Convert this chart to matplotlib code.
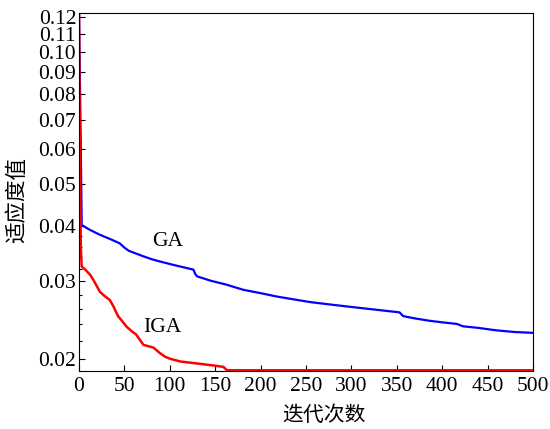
import numpy as np
import matplotlib.pyplot as plt
from matplotlib.ticker import FixedLocator, FixedFormatter, NullFormatter

plt.rcParams['font.family'] = ['Liberation Serif', 'Noto Sans CJK SC']
plt.rcParams['font.size'] = 15.5

# GA convergence curve
ga_x = [0, 2, 3, 12, 23, 35, 45, 50, 55, 63, 71, 80, 89, 104, 115, 126, 128, 130,
        145, 162, 181, 200, 218, 255, 295, 331, 353, 357, 370, 386, 400, 416, 423,
        440, 460, 480, 500]
ga_y = [0.125, 0.06, 0.0403, 0.0393, 0.0383, 0.0374, 0.0366, 0.0358, 0.0352, 0.0347,
        0.0342, 0.0337, 0.0333, 0.0327, 0.0323, 0.0319, 0.0312, 0.0308,
        0.0301, 0.0295, 0.0287, 0.0282, 0.0277, 0.0269, 0.0263, 0.0258, 0.0255,
        0.0250, 0.0247, 0.0244, 0.0242, 0.0240, 0.0237, 0.0235, 0.0232, 0.0230,
        0.0229]

# IGA convergence curve
iga_x = [0, 1, 2, 3, 7, 12, 16, 23, 28, 34, 38, 43, 48, 52, 58, 63, 71, 82, 89, 95,
         100, 112, 126, 148, 159, 163, 500]
iga_y = [0.125, 0.06, 0.036, 0.0324, 0.0319, 0.0311, 0.0302, 0.0284, 0.0278,
         0.0272, 0.0263, 0.0250, 0.0243, 0.0237, 0.0231, 0.0227, 0.0215, 0.0212,
         0.0206, 0.0202, 0.0200, 0.0197, 0.01955, 0.0193, 0.01916, 0.01882, 0.01882]

y_major = [0.02, 0.03, 0.04, 0.05, 0.06, 0.07, 0.08, 0.09, 0.10, 0.11, 0.12]
y_labels = ['0.02', '0.03', '0.04', '0.05', '0.06', '0.07', '0.08', '0.09',
            '0.10', '0.11', '0.12']
y_minor = [0.022, 0.024, 0.026, 0.028, 0.032, 0.034, 0.036, 0.038]

fig = plt.figure(figsize=(5.5, 4.29), dpi=100)
ax = fig.add_axes([0.1436, 0.1352, 0.8255, 0.8345])

ax.plot(ga_x, ga_y, color='#0000ff', lw=1.6)
ax.plot(iga_x, iga_y, color='#ff0000', lw=1.8)

ax.set_yscale('log')
ax.set_xlim(0, 500)
ax.set_ylim(0.01875, 0.1225)
ax.set_xticks(np.arange(0, 501, 50))
ax.yaxis.set_major_locator(FixedLocator(y_major))
ax.yaxis.set_major_formatter(FixedFormatter(y_labels))
ax.yaxis.set_minor_locator(FixedLocator(y_minor))
ax.yaxis.set_minor_formatter(NullFormatter())
ax.tick_params(which='major', direction='in', length=4, width=0.8, pad=4)
ax.tick_params(which='minor', direction='in', length=2.5, width=0.8)
ax.tick_params(axis='y', pad=2)

ax.text(98, 0.0369, 'GA', ha='center', va='center')
ax.text(92, 0.0236, 'IGA', ha='center', va='center')

ax.set_xlabel('迭代次数', fontsize=15)
ax.xaxis.set_label_coords(0.54, -0.1)
ax.set_ylabel('适应度值', fontsize=15.5)
ax.yaxis.set_label_coords(-0.112, 0.478)

fig.savefig('out.png', dpi=100)
